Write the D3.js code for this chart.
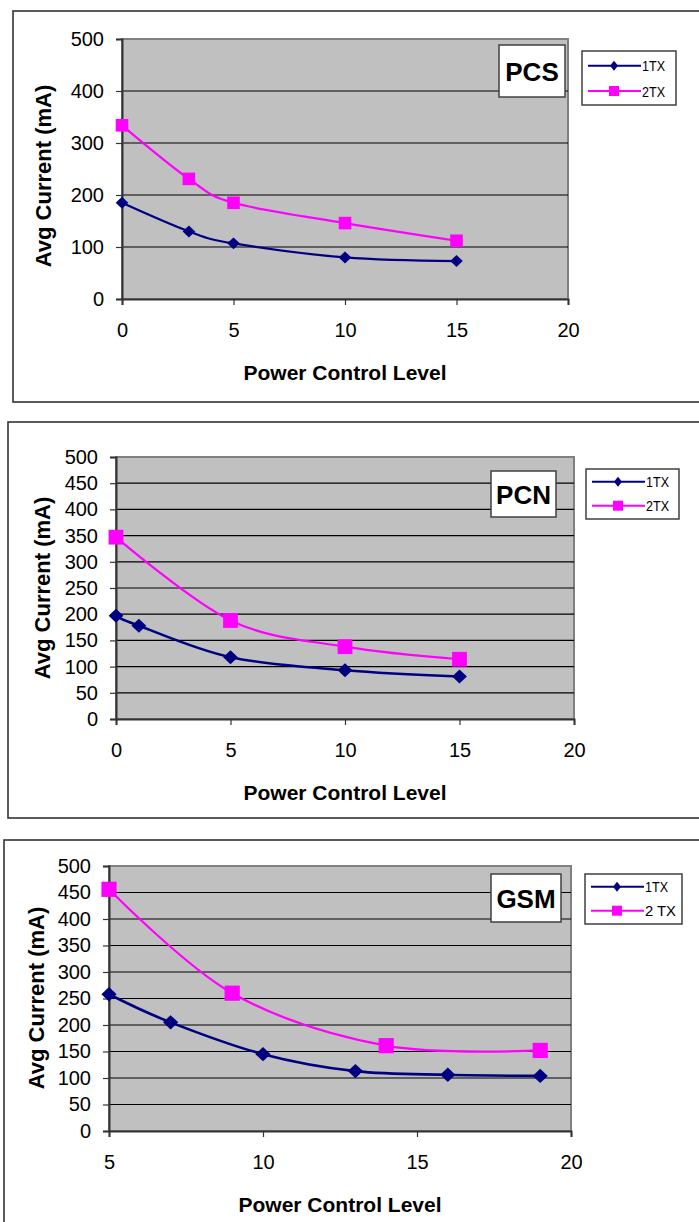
<!DOCTYPE html>
<html>
<head>
<meta charset="utf-8">
<script src="https://cdn.jsdelivr.net/npm/d3@7"></script>
<style>
  body { margin: 0; background: #fff; }
  svg { display: block; font-family: "Liberation Sans", Arial, sans-serif; }
</style>
</head>
<body>
<svg id="chart" width="699" height="1222"></svg>
<script>
/* Avg current vs power control level — three panels (PCS / PCN / GSM) */

// data
const PCS_X1 = [0, 3, 5, 10, 15];
const PCS_1TX = [185, 130, 107, 80, 73];
const PCS_X2 = [0, 3, 5, 10, 15];
const PCS_2TX = [334, 231, 185, 146, 112];

const PCN_X1 = [0, 1, 5, 10, 15];
const PCN_1TX = [197, 178, 118, 93, 81];
const PCN_X2 = [0, 5, 10, 15];
const PCN_2TX = [347, 188, 138, 114];

const GSM_X1 = [5, 7, 10, 13, 16, 19];
const GSM_1TX = [258, 205, 145, 113, 106, 104];
const GSM_X2 = [5, 9, 14, 19];
const GSM_2TX = [456, 260, 161, 152];

const Y_TICKS_100 = [0, 100, 200, 300, 400, 500];
const Y_TICKS_50 = [0, 50, 100, 150, 200, 250, 300, 350, 400, 450, 500];
const X_TICKS_0 = [0, 5, 10, 15, 20];
const X_TICKS_5 = [5, 10, 15, 20];

const X_TITLE = "Power Control Level";
const Y_TITLE = "Avg Current (mA)";

const NAVY = "#000080", MAGENTA = "#ff00ff";

// layout per panel
const PANELS = [
  { name: "PCS", frame: [13, 11, 700, 402], plot: [122, 39, 568, 299],
    xDom: [0, 20], xTicks: X_TICKS_0, yTicks: Y_TICKS_100,
    s1: [PCS_X1, PCS_1TX], s2: [PCS_X2, PCS_2TX], names: ["1TX", "2TX"],
    tag: [499, 45, 565, 97], legend: [582, 51, 676, 105], rows: [65.7, 91],
    yTitle: [43, 176], mk: 6.3, lw1: 2.2 },
  { name: "PCN", frame: [8, 422, 700, 818], plot: [116, 457, 574, 719],
    xDom: [0, 20], xTicks: X_TICKS_0, yTicks: Y_TICKS_50,
    s1: [PCN_X1, PCN_1TX], s2: [PCN_X2, PCN_2TX], names: ["1TX", "2TX"],
    tag: [491, 471, 556, 517], legend: [586, 469, 679, 519], rows: [481.7, 505.7],
    yTitle: [42, 588], mk: 7.4, lw1: 2.6 },
  { name: "GSM", frame: [4, 840, 700, 1240], plot: [109, 866, 571, 1131],
    xDom: [5, 20], xTicks: X_TICKS_5, yTicks: Y_TICKS_50,
    s1: [GSM_X1, GSM_1TX], s2: [GSM_X2, GSM_2TX], names: ["1TX", "2 TX"],
    tag: [491, 874, 561, 922], legend: [585, 874, 682, 924], rows: [886.7, 910.7],
    yTitle: [36, 998], mk: 7.6, lw1: 2.6 }
];

const svg = d3.select("#chart");

function diamond(hw, hh) {
  return `M0,${-hh}L${hw},0L0,${hh}L${-hw},0Z`;
}
function square(h) {
  return `M${-h},${-h}H${h}V${h}H${-h}Z`;
}

PANELS.forEach(P => {
  const g = svg.append("g");
  const [fx0, fy0, fx1, fy1] = P.frame;
  g.append("rect").attr("x", fx0).attr("y", fy0)
    .attr("width", fx1 - fx0).attr("height", fy1 - fy0)
    .attr("fill", "#fff").attr("stroke", "#333").attr("stroke-width", 1.6);

  const [px0, py0, px1, py1] = P.plot;
  const x = d3.scaleLinear().domain(P.xDom).range([px0, px1]);
  const y = d3.scaleLinear().domain([0, 500]).range([py1, py0]);

  // plot area
  g.append("rect").attr("x", px0).attr("y", py0)
    .attr("width", px1 - px0).attr("height", py1 - py0)
    .attr("fill", "#c0c0c0").attr("stroke", "#808080").attr("stroke-width", 2);

  // gridlines
  g.append("g").selectAll("line")
    .data(P.yTicks.filter(v => v > 0 && v < 500)).join("line")
    .attr("x1", px0).attr("x2", px1)
    .attr("y1", d => y(d)).attr("y2", d => y(d))
    .attr("stroke", "#000").attr("stroke-width", 1.2);

  // axes
  const ya = g.append("g").attr("transform", `translate(${px0},0)`)
    .call(d3.axisLeft(y).tickValues(P.yTicks).tickSize(6).tickPadding(12).tickFormat(d3.format("d")));
  const xa = g.append("g").attr("transform", `translate(0,${py1})`)
    .call(d3.axisBottom(x).tickValues(P.xTicks).tickSize(6).tickPadding(18).tickFormat(d3.format("d")));
  [ya, xa].forEach(a => {
    a.select(".domain").attr("stroke", "#333").attr("stroke-width", 2);
    a.selectAll(".tick line").attr("stroke", "#333").attr("stroke-width", 1.2);
    a.selectAll(".tick text").attr("font-size", 20).attr("fill", "#000")
      .attr("font-family", "Liberation Sans, Arial, sans-serif");
  });

  // axis titles
  g.append("text").attr("x", (px0 + px1) / 2).attr("y", py1 + 81)
    .attr("text-anchor", "middle").attr("font-size", 21).attr("font-weight", "bold")
    .text(X_TITLE);
  g.append("text")
    .attr("transform", `translate(${P.yTitle[0]},${P.yTitle[1]}) rotate(-90)`)
    .attr("text-anchor", "middle").attr("dominant-baseline", "central")
    .attr("font-size", 22).attr("font-weight", "bold")
    .text(Y_TITLE);

  // series
  const line = d3.line().x(d => x(d[0])).y(d => y(d[1])).curve(d3.curveCatmullRom.alpha(0));
  const d1 = d3.zip(P.s1[0], P.s1[1]);
  const d2 = d3.zip(P.s2[0], P.s2[1]);

  g.append("path").datum(d1).attr("d", line)
    .attr("fill", "none").attr("stroke", NAVY).attr("stroke-width", P.lw1);
  g.append("path").datum(d2).attr("d", line)
    .attr("fill", "none").attr("stroke", MAGENTA).attr("stroke-width", 2.2);

  g.append("g").selectAll("path").data(d1).join("path")
    .attr("transform", d => `translate(${x(d[0])},${y(d[1])})`)
    .attr("d", diamond(P.mk, P.mk * 0.95)).attr("fill", NAVY);
  g.append("g").selectAll("path").data(d2).join("path")
    .attr("transform", d => `translate(${x(d[0])},${y(d[1])})`)
    .attr("d", square(P.mk)).attr("fill", MAGENTA);

  // band tag box
  const [tx0, ty0, tx1, ty1] = P.tag;
  g.append("rect").attr("x", tx0).attr("y", ty0)
    .attr("width", tx1 - tx0).attr("height", ty1 - ty0)
    .attr("fill", "#fff").attr("stroke", "#404040").attr("stroke-width", 1.5);
  g.append("text").attr("x", (tx0 + tx1) / 2).attr("y", (ty0 + ty1) / 2 + 9.5)
    .attr("text-anchor", "middle").attr("font-size", 26).attr("font-weight", "bold")
    .text(P.name);

  // legend
  const [lx0, ly0, lx1, ly1] = P.legend;
  g.append("rect").attr("x", lx0).attr("y", ly0)
    .attr("width", lx1 - lx0).attr("height", ly1 - ly0)
    .attr("fill", "#fff").attr("stroke", "#404040").attr("stroke-width", 1.5);
  const cols = [NAVY, MAGENTA];
  const shapes = [diamond(4, 5), square(5)];
  P.rows.forEach((ry, i) => {
    g.append("line").attr("x1", lx0 + 6).attr("x2", lx0 + 59)
      .attr("y1", ry).attr("y2", ry).attr("stroke", cols[i]).attr("stroke-width", 2);
    g.append("path").attr("transform", `translate(${lx0 + 32},${ry})`)
      .attr("d", shapes[i]).attr("fill", cols[i]);
    g.append("text").attr("x", lx0 + 60).attr("y", ry + 5.5)
      .attr("font-size", 15).attr("textLength", P.names[i].length > 3 ? 31 : 23)
      .attr("lengthAdjust", "spacingAndGlyphs")
      .text(P.names[i]);
  });
});
</script>
</body>
</html>
